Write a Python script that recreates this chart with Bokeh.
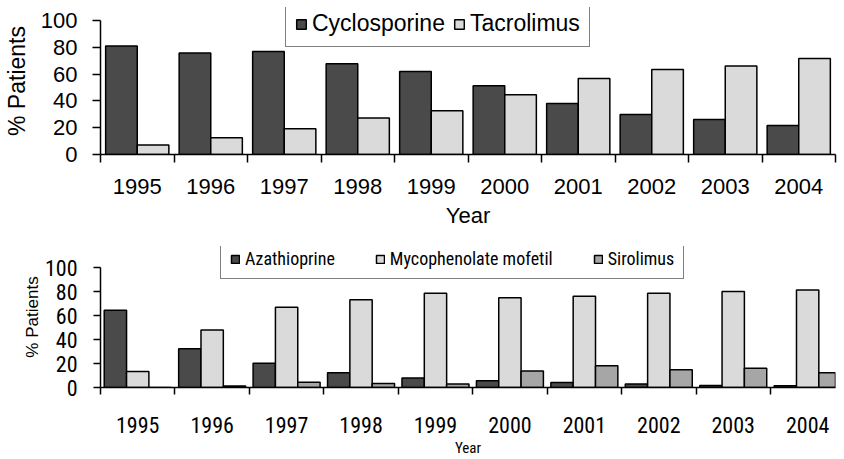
import subprocess
from bokeh.plotting import figure
from bokeh.models import Range1d, FixedTicker, Legend, LegendItem
from bokeh.layouts import column
from bokeh.embed import file_html
from bokeh.resources import INLINE
import numpy as np

years = ["1995", "1996", "1997", "1998", "1999", "2000", "2001", "2002", "2003", "2004"]
cyclosporine = [81.0, 75.7, 76.9, 67.7, 62.0, 51.3, 38.0, 29.9, 26.1, 21.6]
tacrolimus = [7.0, 12.5, 19.2, 27.2, 32.6, 44.6, 56.7, 63.4, 66.0, 71.6]
azathioprine = [64.4, 32.3, 20.2, 12.3, 7.9, 5.7, 4.1, 3.0, 1.6, 1.5]
mycophenolate = [13.4, 47.9, 66.9, 73.2, 78.6, 74.8, 76.2, 78.6, 80.0, 81.4]
sirolimus = [0.0, 1.3, 4.4, 3.3, 3.0, 13.7, 18.1, 14.8, 16.1, 12.3]
y_ticks = [0, 20, 40, 60, 80, 100]

DARK = "#4a4a4a"
LIGHT = "#dadada"
MID = "#a6a6a6"
REG = "Liberation Sans"

# pick a condensed face if one is installed (width relative to Arial)
try:
    fams = subprocess.run(["fc-list", ":", "family"], capture_output=True, text=True).stdout
except Exception:
    fams = ""
NARROW, NF = REG, 1.0
for name, f in [("Liberation Sans Narrow", 0.82), ("Roboto Condensed", 0.90),
                ("DejaVu Sans Condensed", 1.03)]:
    if name in fams:
        NARROW, NF = name, f
        break

if NARROW == "Roboto Condensed":
    tick2, leg2_size, year2 = 22, 18, 15
else:
    tick2 = max(20, int(round(23 * 0.82 / NF)))
    leg2_size = int(round(19 * 0.82 / NF))
    year2 = int(round(16 * 0.82 / NF))

idx = np.arange(len(years))
overrides = {int(i): y for i, y in zip(idx, years)}
minor = [float(i) - 0.5 for i in range(len(years) + 1)]


def style(p, tick_font, tick_size, xlab_font, xlab_size, ylab_size,
          xstand, xlab_stand, ystand, ylab_stand, ytick_out, xtick_out):
    p.grid.visible = False
    p.outline_line_color = None
    p.background_fill_color = "white"
    p.border_fill_color = "white"
    xa = p.xaxis[0]
    xa.ticker = FixedTicker(ticks=[int(i) for i in idx], minor_ticks=minor)
    xa.major_label_overrides = overrides
    xa.major_tick_line_color = None
    xa.major_tick_out = xtick_out
    xa.major_tick_in = 0
    xa.minor_tick_out = xtick_out
    xa.minor_tick_in = 0
    xa.minor_tick_line_color = "black"
    xa.minor_tick_line_width = 1.5
    xa.axis_line_color = "black"
    xa.axis_line_width = 1.5
    xa.major_label_text_font = tick_font
    xa.major_label_text_font_size = f"{tick_size}px"
    xa.major_label_text_color = "black"
    xa.major_label_standoff = xstand
    xa.axis_label = "Year"
    xa.axis_label_text_font = xlab_font
    xa.axis_label_text_font_size = f"{xlab_size}px"
    xa.axis_label_text_font_style = "normal"
    xa.axis_label_text_color = "black"
    xa.axis_label_standoff = xlab_stand

    ya = p.yaxis[0]
    ya.ticker = FixedTicker(ticks=y_ticks)
    ya.bounds = (0, 100)
    ya.minor_tick_line_color = None
    ya.major_tick_out = ytick_out
    ya.major_tick_in = 0
    ya.major_tick_line_color = "black"
    ya.major_tick_line_width = 1.5
    ya.axis_line_color = "black"
    ya.axis_line_width = 1.5
    ya.major_label_text_font = tick_font
    ya.major_label_text_font_size = f"{tick_size}px"
    ya.major_label_text_color = "black"
    ya.major_label_standoff = ystand
    ya.axis_label = "% Patients"
    ya.axis_label_text_font = REG
    ya.axis_label_text_font_size = f"{ylab_size}px"
    ya.axis_label_text_font_style = "normal"
    ya.axis_label_text_color = "black"
    ya.axis_label_standoff = ylab_stand


# ---------------- top chart ----------------
p1 = figure(width=844, height=238, x_range=Range1d(-0.5, 9.5), y_range=Range1d(0, 109.7),
            output_backend="svg", toolbar_location=None,
            min_border_left=96, min_border_right=9, min_border_top=7, min_border_bottom=84)
bw1 = 0.43
r1 = p1.vbar(x=idx - bw1 / 2, top=cyclosporine, width=bw1, bottom=0,
             fill_color=DARK, line_color="black", line_width=1.5)
r2 = p1.vbar(x=idx + bw1 / 2, top=tacrolimus, width=bw1, bottom=0,
             fill_color=LIGHT, line_color="black", line_width=1.5)
style(p1, REG, 22, REG, 22, 23, 16, 6, 15, 8, 8, 8)

leg1 = Legend(items=[LegendItem(label="Cyclosporine", renderers=[r1]),
                     LegendItem(label="Tacrolimus", renderers=[r2])],
              orientation="horizontal", location=(185, 107),
              label_text_font=REG, label_text_font_size="23px", label_text_color="black",
              label_height=22, glyph_width=12, glyph_height=12, label_standoff=5, spacing=8,
              padding=9, margin=0, border_line_color="black", border_line_width=1.5,
              background_fill_color="white", background_fill_alpha=1.0)
p1.add_layout(leg1)

# ---------------- bottom chart ----------------
p2 = figure(width=844, height=221, x_range=Range1d(-0.5, 9.374), y_range=Range1d(0, 117.6),
            output_backend="svg", toolbar_location=None,
            min_border_left=95, min_border_right=0, min_border_top=8, min_border_bottom=70)
bw2 = 0.30
r3 = p2.vbar(x=idx - bw2, top=azathioprine, width=bw2, bottom=0,
             fill_color=DARK, line_color="black", line_width=1.5)
r4 = p2.vbar(x=idx, top=mycophenolate, width=bw2, bottom=0,
             fill_color=LIGHT, line_color="black", line_width=1.5)
r5 = p2.vbar(x=idx + bw2, top=sirolimus, width=bw2, bottom=0,
             fill_color=MID, line_color="black", line_width=1.5)
style(p2, NARROW, tick2, NARROW, year2, 17, 22, 3, 16, 0, 7, 7)

leg2 = Legend(items=[LegendItem(label="Azathioprine", renderers=[r3]),
                     LegendItem(label="Mycophenolate mofetil", renderers=[r4]),
                     LegendItem(label="Sirolimus", renderers=[r5])],
              orientation="horizontal", location=(120, 108),
              label_text_font=NARROW, label_text_font_size=f"{leg2_size}px", label_text_color="black",
              label_height=17, glyph_width=10, glyph_height=10, label_standoff=5, spacing=40,
              padding=9, margin=0, border_line_color="black", border_line_width=1.5,
              background_fill_color="white", background_fill_alpha=1.0)
p2.add_layout(leg2)

layout = column(p1, p2, spacing=0)
open("out.html", "w").write(file_html(layout, INLINE))
